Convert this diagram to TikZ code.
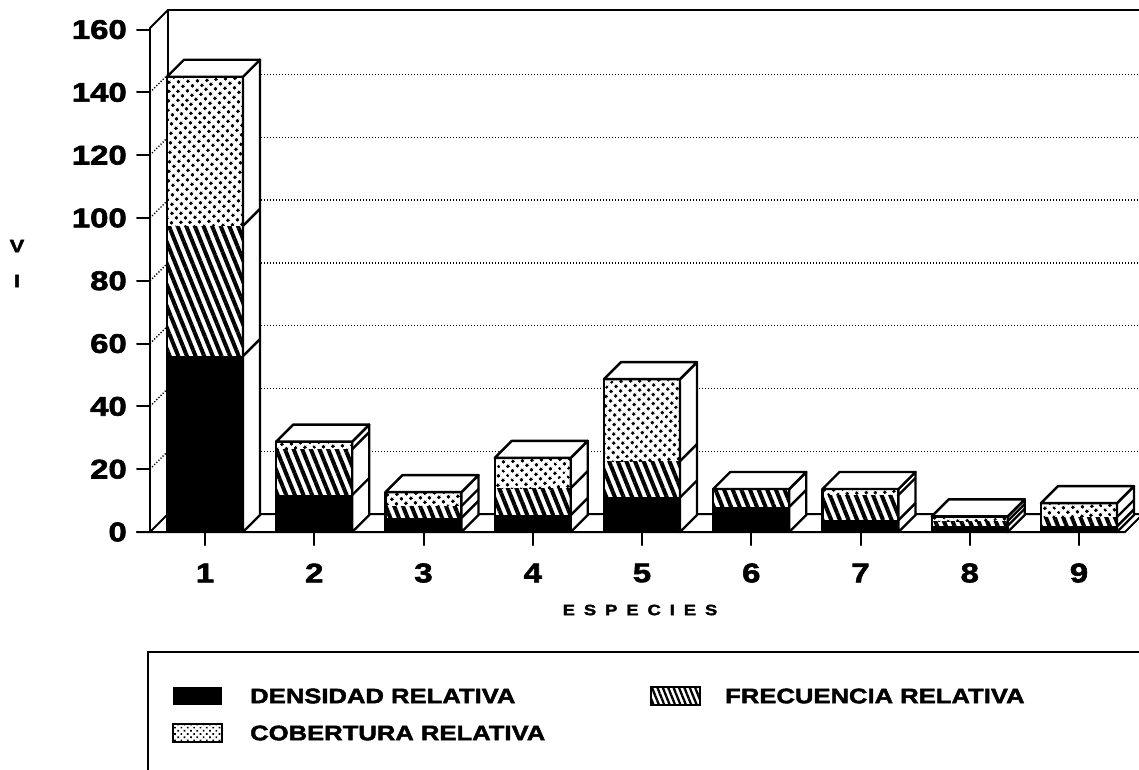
\documentclass[tikz,border=0pt]{standalone}
\usepackage{fontspec}
\newfontfamily\hb{Liberation Sans}[FakeStretch=1.22, BoldFeatures={FakeBold=2.2}]
\usetikzlibrary{patterns.meta}
\tikzset{
  frame/.style={line width=2pt, line join=round, line cap=round},
  barline/.style={line width=2.4pt, line join=round},
  densfill/.style={fill=black},
  freqfill/.style={fill=white, postaction={pattern={Lines[angle=-68,distance=8pt,line width=4pt]}}},
  covfill/.style={fill=white, postaction={pattern={Dots[distance=6.5pt,radius=1.8pt,angle=45]}}},
  gridline/.style={line width=1.4pt, dash pattern=on 1.2pt off 1.8pt},
  lab/.style={font=\hb\bfseries\fontsize{27}{27}\selectfont, inner sep=0pt},
  leg/.style={font=\hb\bfseries\fontsize{21}{21}\selectfont, inner sep=0pt, anchor=west},
  small/.style={font=\hb\bfseries\fontsize{15}{15}\selectfont, inner sep=0pt}
}
\begin{document}
\begin{tikzpicture}[x=1pt,y=-1pt]
\useasboundingbox (0,0) rectangle (1139,769);
\clip (0,0) rectangle (1139,769);
% back wall grid lines
\foreach \v in {20,40,...,140}{
  \pgfmathsetmacro\yy{532-3.14*\v}
  \draw[gridline] (168,\yy-18) -- (1145,\yy-18);
  \draw[gridline] (150,\yy) -- (168,\yy-18);
}
% frame
\draw[frame] (168,10) -- (1145,10);
\draw[frame] (168,10) -- (168,514);
\draw[frame] (150,28) -- (150,532);
\draw[frame] (150,28) -- (168,10);
\draw[frame] (150,532) -- (168,514) -- (1143,514);
\draw[frame] (137,532) -- (1125,532) -- (1143,514);
% y ticks and labels
\foreach \v in {0,20,...,160}{
  \pgfmathsetmacro\yy{532-3.14*\v}
  \draw[frame] (137,\yy) -- (150,\yy);
  \node[lab, anchor=east] (yl\v) at (127,\yy) {\v};
}
% bars
\foreach \i/\a/\b/\c in {1/56/97.5/145, 2/11.8/26.4/28.8, 3/4.5/8.3/12.7, 4/5.4/14/23.6, 5/11/22.6/48.7, 6/8/13.7/13.7, 7/3.8/11.8/13.7, 8/2/3.5/5, 9/1.8/4.8/9.2}{
  \pgfmathsetmacro\xl{167+109.25*(\i-1)}
  \pgfmathsetmacro\xr{\xl+76}
  \pgfmathsetmacro\xc{\xl+38}
  \pgfmathsetmacro\ya{532-3.14*\a}
  \pgfmathsetmacro\yb{532-3.14*\b}
  \pgfmathsetmacro\yc{532-3.14*\c}
  \fill[densfill] (\xl,532) rectangle (\xr,\ya);
  \fill[freqfill] (\xl,\ya) rectangle (\xr,\yb);
  \fill[covfill] (\xl,\yb) rectangle (\xr,\yc);
  \draw[barline] (\xl,532) rectangle (\xr,\yc);
  \draw[barline, fill=white] (\xr,532) -- (\xr+17,515) -- (\xr+17,\yc-17) -- (\xr,\yc) -- cycle;
  \draw[barline, fill=white] (\xl,\yc) -- (\xl+17,\yc-17) -- (\xr+17,\yc-17) -- (\xr,\yc) -- cycle;
  \draw[barline] (\xr,\ya) -- (\xr+17,\ya-17);
  \draw[barline] (\xr,\yb) -- (\xr+17,\yb-17);
  \draw[frame] (\xc,532) -- (\xc,545);
  \node[lab] (xl\i) at (\xc,573) {\i};
}
% axis titles
\node[small] (xt) at (640,610) {E\hspace{9pt}S\hspace{9pt}P\hspace{9pt}E\hspace{9pt}C\hspace{9pt}I\hspace{9pt}E\hspace{9pt}S};
\node[small, font=\hb\bfseries\fontsize{18}{18}\selectfont] (yv) at (17,246) {V};
\node[small, font=\hb\bfseries\fontsize{18}{18}\selectfont] (yi) at (17,281) {I};
% legend
\draw[line width=1.8pt] (148,775) |- (1145,652);
\fill[black] (173,687) rectangle (222,705);
\node[leg] (l1) at (250,696) {DENSIDAD RELATIVA};
\fill[white, postaction={pattern={Lines[angle=-68,distance=5pt,line width=2.3pt]}}] (651,687) rectangle (700,705);
\draw[line width=1.2pt] (651,687) rectangle (700,705);
\node[leg] (l2) at (725,696) {FRECUENCIA RELATIVA};
\fill[white, postaction={pattern={Dots[distance=4.5pt,radius=1.2pt,angle=45]}}] (173,724) rectangle (222,742);
\draw[line width=1.2pt] (173,724) rectangle (222,742);
\node[leg] (l3) at (250,733) {COBERTURA RELATIVA};
\end{tikzpicture}
\end{document}
